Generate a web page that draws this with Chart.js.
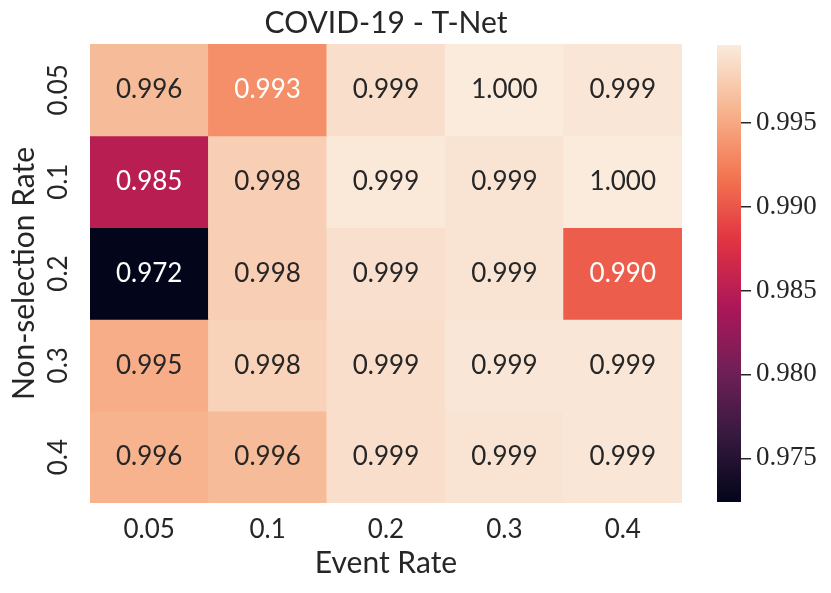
<!DOCTYPE html>
<html>
<head>
<meta charset="utf-8">
<script src="https://cdn.jsdelivr.net/npm/chart.js@4.4.1/dist/chart.umd.min.js"></script>
<style>
  html, body { margin: 0; padding: 0; background: #fff; }
  #wrap { position: relative; width: 831px; height: 593px; }
  #heat { position: absolute; left: 0; top: 0; }
  #bar { position: absolute; left: 700px; top: 0; }
</style>
</head>
<body>
<div id="wrap">
  <canvas id="heat" width="700" height="593"></canvas>
  <canvas id="bar" width="131" height="593"></canvas>
</div>
<script>
// categories
const eventRates = ['0.05', '0.1', '0.2', '0.3', '0.4'];
const nonSelectionRates = ['0.05', '0.1', '0.2', '0.3', '0.4'];

// one array per non-selection rate (row), values per event rate (column)
const row005 = [0.9962, 0.9934, 0.9987, 0.9996, 0.9993];
const row01 = [0.9850, 0.9976, 0.9994, 0.9991, 0.99962];
const row02 = [0.9724, 0.9976, 0.9988, 0.9991, 0.9904];
const row03 = [0.9953, 0.9979, 0.9987, 0.9993, 0.9993];
const row04 = [0.9957, 0.9962, 0.9987, 0.9991, 0.9993];
const rows = [row005, row01, row02, row03, row04];

const colorbarTicks = [0.975, 0.980, 0.985, 0.990, 0.995];

const TEXT = '#262626';
const SANS = "Lato, 'Noto Sans', sans-serif";
const SERIF = "'Liberation Serif', serif";

// seaborn "rocket" colormap stops
const rocket = [
    [0, '#03051a'], [1 / 7, '#35193e'], [2 / 7, '#701f57'], [3 / 7, '#ad1759'],
    [4 / 7, '#e13342'], [5 / 7, '#f37651'], [6 / 7, '#f6b48f'], [1, '#faebdd']
];

const allValues = rows.flat();
const vmin = Math.min(...allValues);
const vmax = Math.max(...allValues);

function hexToRgb(h) {
    return [1, 3, 5].map(i => parseInt(h.slice(i, i + 2), 16));
}

function rocketRgb(t) {
    t = Math.max(0, Math.min(1, t));
    for (let i = 1; i < rocket.length; i++) {
        if (t <= rocket[i][0]) {
            const [t0, c0] = rocket[i - 1];
            const [t1, c1] = rocket[i];
            const f = (t - t0) / (t1 - t0);
            const a = hexToRgb(c0), b = hexToRgb(c1);
            return a.map((v, k) => Math.round(v + (b[k] - v) * f));
        }
    }
    return hexToRgb(rocket[rocket.length - 1][1]);
}

function cellColor(v) {
    const [r, g, b] = rocketRgb((v - vmin) / (vmax - vmin));
    return `rgb(${r},${g},${b})`;
}

function luminance(v) {
    const c = rocketRgb((v - vmin) / (vmax - vmin)).map(x => {
        x /= 255;
        return x <= 0.03928 ? x / 12.92 : Math.pow((x + 0.055) / 1.055, 2.4);
    });
    return 0.2126 * c[0] + 0.7152 * c[1] + 0.0722 * c[2];
}

const annotatePlugin = {
    id: 'annotate',
    afterDatasetsDraw(chart) {
        const ctx = chart.ctx;
        ctx.save();
        ctx.font = `26px ${SANS}`;
        ctx.textAlign = 'center';
        ctx.textBaseline = 'middle';
        rows.forEach((vals, r) => {
            const meta = chart.getDatasetMeta(r);
            meta.data.forEach((bar, c) => {
                const { x, y, base } = bar.getProps(['x', 'y', 'base'], true);
                ctx.fillStyle = luminance(vals[c]) > 0.408 ? TEXT : '#ffffff';
                ctx.fillText(vals[c].toFixed(3), x, (y + base) / 2);
            });
        });
        // rotated row tick labels
        const yScale = chart.scales.y;
        ctx.fillStyle = TEXT;
        ctx.font = `26px ${SANS}`;
        nonSelectionRates.forEach((lab, r) => {
            const py = yScale.getPixelForValue(r + 0.5);
            ctx.save();
            ctx.translate(59, py);
            ctx.rotate(-Math.PI / 2);
            ctx.fillText(lab, 0, 0);
            ctx.restore();
        });
        ctx.restore();
    }
};

new Chart(document.getElementById('heat'), {
    type: 'bar',
    data: {
        labels: eventRates,
        datasets: rows.map((vals, r) => ({
            label: nonSelectionRates[r],
            data: vals.map(() => 1),
            backgroundColor: vals.map(cellColor),
            borderWidth: 0,
            barPercentage: 1,
            categoryPercentage: 1
        }))
    },
    options: {
        responsive: false,
        animation: false,
        layout: { padding: { top: 0, right: 18, bottom: 0, left: 0 } },
        plugins: {
            legend: { display: false },
            tooltip: { enabled: false },
            title: {
                display: true,
                fullSize: false,
                text: 'COVID-19 - T-Net',
                color: TEXT,
                font: { family: SANS, size: 30, weight: 'normal', lineHeight: 1.2 },
                padding: { top: 5, bottom: 3 }
            }
        },
        scales: {
            x: {
                type: 'category',
                stacked: true,
                grid: { display: false, drawTicks: false },
                border: { display: false },
                ticks: { color: TEXT, font: { family: SANS, size: 26 }, padding: 11, maxRotation: 0 },
                title: {
                    display: true,
                    text: 'Event Rate',
                    color: TEXT,
                    font: { family: SANS, size: 30, lineHeight: 1.2 },
                    padding: { top: 0, bottom: 12 }
                },
                afterFit(scale) { scale.height = 90; }
            },
            y: {
                type: 'linear',
                stacked: true,
                min: 0,
                max: rows.length,
                reverse: true,
                grid: { display: false, drawTicks: false },
                border: { display: false },
                ticks: { display: false },
                title: {
                    display: true,
                    text: 'Non-selection Rate',
                    color: TEXT,
                    font: { family: SANS, size: 30, lineHeight: 1.2 },
                    padding: { top: 6, bottom: 0 }
                },
                afterFit(scale) { scale.width = 90; }
            }
        }
    },
    plugins: [annotatePlugin]
});

// colorbar
new Chart(document.getElementById('bar'), {
    type: 'bar',
    data: {
        labels: [''],
        datasets: [{
            data: [[vmin, vmax]],
            borderWidth: 0,
            barPercentage: 1,
            categoryPercentage: 1,
            backgroundColor(context) {
                const area = context.chart.chartArea;
                if (!area) return null;
                const g = context.chart.ctx.createLinearGradient(0, area.bottom, 0, area.top);
                rocket.forEach(([t, c]) => g.addColorStop(t, c));
                return g;
            }
        }]
    },
    options: {
        responsive: false,
        animation: false,
        layout: { padding: { top: 45, right: 0, bottom: 91, left: 17 } },
        plugins: { legend: { display: false }, tooltip: { enabled: false } },
        scales: {
            x: { display: false },
            y: {
                position: 'right',
                min: vmin,
                max: vmax,
                afterBuildTicks(scale) { scale.ticks = colorbarTicks.map(v => ({ value: v })); },
                grid: { drawOnChartArea: false, drawTicks: true, tickLength: 10, color: TEXT, lineWidth: 1.5 },
                border: { display: false },
                ticks: {
                    color: TEXT,
                    padding: 5,
                    font: { family: SERIF, size: 27 },
                    callback: v => Number(v).toFixed(3)
                },
                afterFit(scale) { scale.width = 90; }
            }
        }
    }
});
</script>
</body>
</html>
